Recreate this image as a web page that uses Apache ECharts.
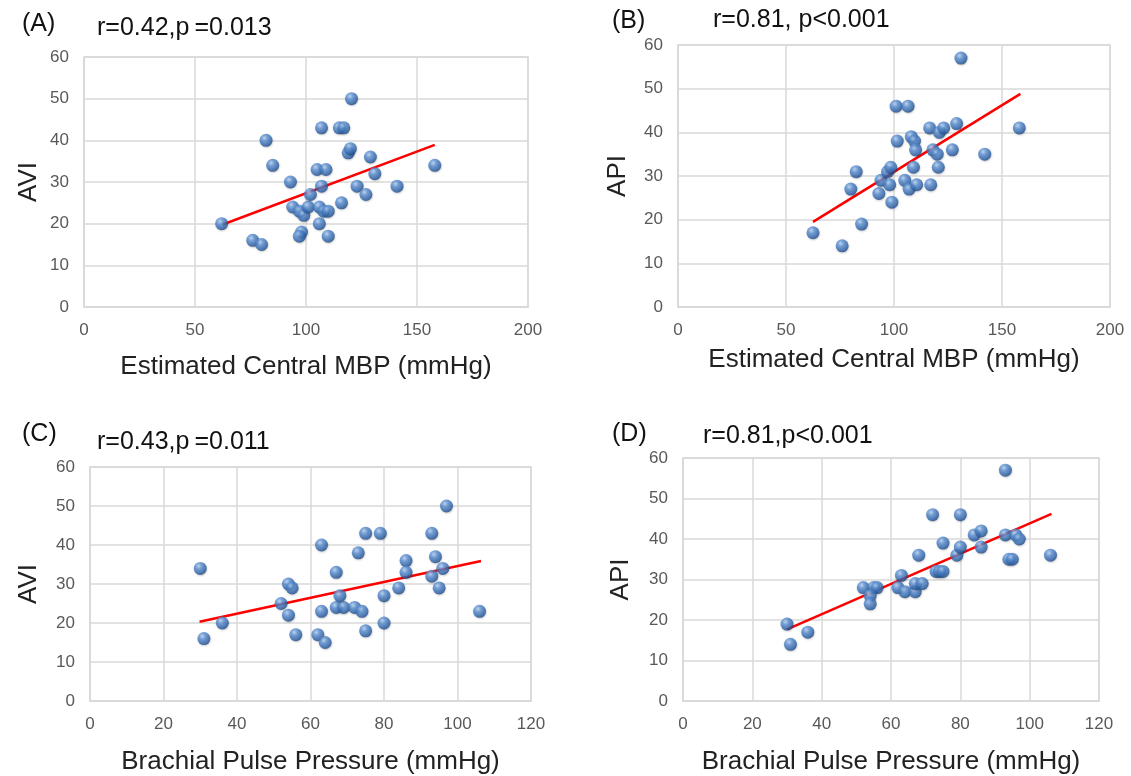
<!DOCTYPE html>
<html>
<head>
<meta charset="utf-8">
<script src="https://cdn.jsdelivr.net/npm/echarts@6/dist/echarts.min.js"></script>
<style>
html,body{margin:0;padding:0;background:#fff;}
#chart{width:1131px;height:776px;}
</style>
</head>
<body>
<div id="chart"></div>
<script>
// Panel A: AVI vs Estimated Central MBP
const aX = [62,76,80,82,85,93,94,97,99,101,102,98,97,105,109,107,107,115,117,106,108,110,106,110,116,120.5,119,120,129,131,123,127,141,158];
const aY = [20,16,15,40,34,30,24,23,22,24,27,18,17,33,33,29,43,43,43,24,23,23,20,17,25,50,37,38,36,32,29,27,29,34];
const aFitX = [62.5,158];
const aFitY = [19.8,38.9];

// Panel B: API vs Estimated Central MBP
const bX = [62.5,76,85,80,82.5,93,94,97,98.5,98,99,101,106.5,101.5,108,109.5,110,109,105,107,110.5,117,116.5,121,123,118,120,120.5,127,129,131,158,142];
const bY = [17,14,19,27,31,26,29,31,32,28,24,46,46,38,39,38,36,32,29,27,28,28,41,40,41,36,35,32,36,42,57,41,35];
const bFitX = [62.5,158.5];
const bFitY = [19.5,48.8];

// Panel C: AVI vs Brachial Pulse Pressure
const cX = [30,31,36,52,54,55,54,56,62,64,63,63,67,67,69,68,72,74,73,75,75,79,80,80,84,86,86,93,94,93,96,95,97,106];
const cY = [34,16,20,25,30,29,22,17,17,15,40,23,33,24,24,27,24,23,38,43,18,43,27,20,29,36,33,43,37,32,34,29,50,23];
const cFitX = [29.8,106.4];
const cFitY = [20.3,35.9];

// Panel D: API vs Brachial Pulse Pressure
const dX = [30,31,36,52,55,56,54,54,62,63,64,67,67,69,68,72,73,74,75,75,79,80,80,84,86,86,93,93,94,95,96,97,106];
const dY = [19,14,17,28,28,28,26,24,28,31,27,27,29,29,36,46,32,32,32,39,36,46,38,41,42,38,57,41,35,35,41,40,36];
const dFitX = [30,106.3];
const dFitY = [17.7,46.2];

const panelLabels = ['(A)','(B)','(C)','(D)'];
const statTexts = ['r=0.42,p\u2009=0.013','r=0.81, p<0.001','r=0.43,p\u2009=0.011','r=0.81,p<0.001'];
const xNames = ['Estimated Central MBP (mmHg)','Estimated Central MBP (mmHg)','Brachial Pulse Pressure (mmHg)','Brachial Pulse Pressure (mmHg)'];
const yNames = ['AVI','API','AVI','API'];
const xMaxs = [200,200,120,120];
const xIntervals = [50,50,20,20];
const yMax = 60, yInterval = 10;

const FONT = 'Liberation Sans, Arial, sans-serif';
const gridColor = '#d9d9d9';

const grids = [
  {left:84, top:57, width:444, height:250},
  {left:678, top:45, width:432, height:262},
  {left:90, top:467, width:441, height:234},
  {left:683, top:458, width:416, height:243}
];
const yNameGaps = [42,47,48,49];
const xNameGaps = [47,40,48,48];
const titlePos = [
  {lx:22, ly:12, sx:97, sy:16},
  {lx:612, ly:9, sx:713, sy:8},
  {lx:22, ly:422, sx:97, sy:430},
  {lx:612, ly:422, sx:703, sy:424}
];

function pairs(xs, ys){ return xs.map((x,i)=>[x, ys[i]]); }
const scatterData = [pairs(aX,aY), pairs(bX,bY), pairs(cX,cY), pairs(dX,dY)];
const fitData = [pairs(aFitX,aFitY), pairs(bFitX,bFitY), pairs(cFitX,cFitY), pairs(dFitX,dFitY)];

const sphere = {
  type:'radial', x:0.38, y:0.32, r:0.7,
  colorStops:[
    {offset:0, color:'#b7d3f5'},
    {offset:0.35, color:'#5a8fd3'},
    {offset:0.8, color:'#2d63a8'},
    {offset:1, color:'#1d4683'}
  ]
};

const titles = [];
panelLabels.forEach((t,i)=>{
  titles.push({text:t, left:titlePos[i].lx, top:titlePos[i].ly, padding:0,
    textStyle:{fontFamily:FONT, fontSize:25, fontWeight:'normal', color:'#111'}});
  titles.push({text:statTexts[i], left:titlePos[i].sx, top:titlePos[i].sy, padding:0,
    textStyle:{fontFamily:FONT, fontSize:25, fontWeight:'normal', color:'#111'}});
});

const xAxes = [], yAxes = [], series = [];
for (let i=0;i<4;i++){
  xAxes.push({
    type:'value', gridIndex:i, min:0, max:xMaxs[i], interval:xIntervals[i],
    name:xNames[i], nameLocation:'middle', nameGap:xNameGaps[i],
    nameTextStyle:{fontFamily:FONT, fontSize:26, color:'#222'},
    axisLine:{show:true, lineStyle:{color:gridColor, width:1.5}},
    axisTick:{show:false},
    axisLabel:{fontFamily:FONT, fontSize:17, color:'#595959', margin:15},
    splitLine:{show:true, lineStyle:{color:gridColor, width:1.5}}
  });
  yAxes.push({
    type:'value', gridIndex:i, min:0, max:yMax, interval:yInterval,
    name:yNames[i], nameLocation:'middle', nameGap:yNameGaps[i], nameRotate:90,
    nameTextStyle:{fontFamily:FONT, fontSize:26, color:'#222'},
    axisLine:{show:true, lineStyle:{color:gridColor, width:1.5}},
    axisTick:{show:false},
    axisLabel:{fontFamily:FONT, fontSize:17, color:'#595959', margin:15},
    splitLine:{show:true, lineStyle:{color:gridColor, width:1.5}}
  });
  series.push({
    type:'line', xAxisIndex:i, yAxisIndex:i, data:fitData[i],
    showSymbol:false, symbol:'none', silent:true, z:2,
    lineStyle:{color:'#ff0000', width:2.5}
  });
  series.push({
    type:'scatter', xAxisIndex:i, yAxisIndex:i, data:scatterData[i],
    symbol:'circle', symbolSize:13, z:3,
    itemStyle:{color:sphere, shadowColor:'rgba(0,0,0,0.25)', shadowBlur:2, shadowOffsetX:0.5, shadowOffsetY:1}
  });
}

const gridOpts = grids.map(g=>Object.assign({show:true, borderColor:gridColor, borderWidth:1.5, backgroundColor:'#fff'}, g));

const chart = echarts.init(document.getElementById('chart'), null, {renderer:'canvas'});
chart.setOption({
  backgroundColor:'#ffffff',
  animation:false,
  title:titles,
  grid:gridOpts,
  xAxis:xAxes,
  yAxis:yAxes,
  series:series
});
</script>
</body>
</html>
